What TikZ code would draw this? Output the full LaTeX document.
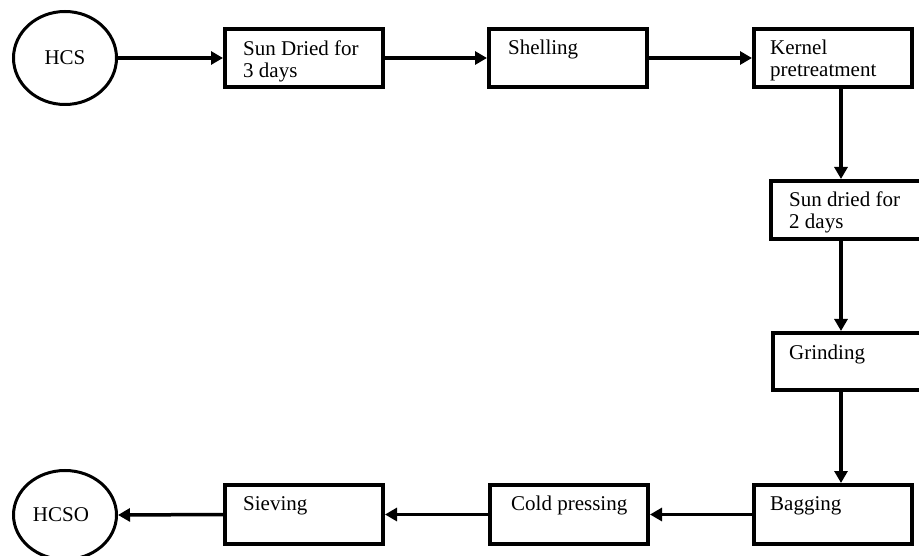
\documentclass[tikz,border=0pt]{standalone}
\usepackage{fontspec}
\setmainfont{Liberation Serif}
\usetikzlibrary{arrows.meta,shapes.geometric,calc}
\begin{document}
\begin{tikzpicture}[x=1pt,y=-1pt,
  font=\fontsize{21}{22.5}\selectfont,
  stepbox/.style={draw,line width=4pt,minimum width=158pt,minimum height=58pt,inner sep=0pt,anchor=north west},
  endpoint/.style={draw,ellipse,line width=3pt,minimum width=103pt,inner sep=0pt},
  lbl/.style={anchor=north west,inner sep=0pt,align=left},
  flow/.style={line width=3.5pt,-{Triangle[length=12pt,width=13pt]}}]
\path[use as bounding box] (0,0) rectangle (919,556);
\clip (0,0) rectangle (919,556);
\node[endpoint,minimum height=93pt] (hcs) at (65,58) {HCS};
\node[endpoint,minimum height=89pt] (hcso) at (65,515) {HCSO\hspace*{8pt}};
\node[stepbox] (b1) at (223,27) {};
\node[stepbox] (b2) at (487,27) {};
\node[stepbox] (b3) at (752,27) {};
\node[stepbox] (b4) at (769,179) {};
\node[stepbox,minimum height=57pt] (b5) at (771,331) {};
\node[stepbox,minimum height=59pt] (b6) at (752,483) {};
\node[stepbox,minimum height=59pt] (b7) at (488,483) {};
\node[stepbox,minimum height=59pt] (b8) at (223,483) {};
\node[lbl] (t1) at ($(b1.north west)+(20,13)$) {\rule{0pt}{15pt}Sun Dried for\\3 days};
\node[lbl] (t2) at ($(b2.north west)+(21,12)$) {\rule{0pt}{15pt}Shelling};
\node[lbl] (t3) at ($(b3.north west)+(18,12)$) {\rule{0pt}{15pt}Kernel\\pretreatment};
\node[lbl] (t4) at ($(b4.north west)+(20,12)$) {\rule{0pt}{15pt}Sun dried for\\2 days};
\node[lbl] (t5) at ($(b5.north west)+(18,13)$) {\rule{0pt}{15pt}Grinding};
\node[lbl] (t6) at ($(b6.north west)+(18,12)$) {\rule{0pt}{15pt}Bagging};
\node[lbl] (t7) at ($(b7.north west)+(23,12)$) {\rule{0pt}{15pt}Cold pressing};
\node[lbl] (t8) at ($(b8.north west)+(20,12)$) {\rule{0pt}{15pt}Sieving};
\coordinate (vx) at (841,0);
\draw[flow] (hcs.east) -- (b1.west);
\draw[flow] (b1.east) -- (b2.west);
\draw[flow] (b2.east) -- (b3.west);
\draw[flow] (b3.south -| vx) -- (b4.north -| vx);
\draw[flow] (b4.south -| vx) -- (b5.north -| vx);
\draw[flow] (b5.south -| vx) -- (b6.north -| vx);
\draw[flow] (b6.west) -- (b7.east);
\draw[flow] (b7.west) -- (b8.east);
\draw[flow] (b8.west) -- (hcso.east);
\end{tikzpicture}
\end{document}
